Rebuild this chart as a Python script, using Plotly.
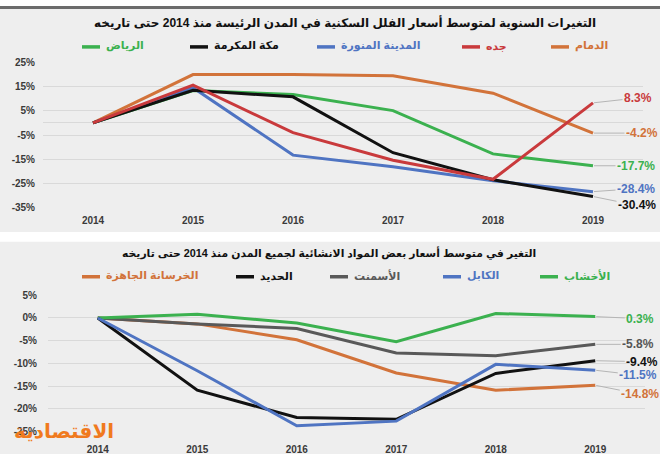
import plotly.graph_objects as go

# ---------------- data ----------------
years = ["2014", "2015", "2016", "2017", "2018", "2019"]

# top chart: villa prices change (%)
top_names = ["الدمام", "جده", "المدينة المنورة", "مكة المكرمة", "الرياض"]
dammam = [0, 20.0, 20.0, 19.5, 12.3, -4.2]
jeddah = [0, 15.6, -4.0, -15.4, -23.3, 8.3]
madinah = [0, 14.6, -13.3, -18.1, -23.9, -28.4]
makkah = [0, 13.5, 10.8, -12.3, -23.5, -30.4]
riyadh = [0, 13.4, 11.8, 5.1, -12.8, -17.7]
top_colors = ["#d2733a", "#c93a3c", "#4f74c2", "#111111", "#3bb14f"]
top_label_colors = ["#d2733a", "#c93a3c", "#4f74c2", "#111111", "#3bb14f"]

# bottom chart: construction materials change (%)
bot_names = ["الأخشاب", "الكابل", "الأسمنت", "الحديد", "الخرسانة الجاهزة"]
wood = [0, 0.8, -1.1, -5.2, 1.0, 0.3]
cables = [0, -11.6, -23.7, -22.7, -10.2, -11.5]
cement = [0, -1.3, -2.3, -7.7, -8.3, -5.8]
iron = [0, -15.9, -21.9, -22.3, -12.2, -9.4]
concrete = [0, -1.3, -4.8, -12.1, -15.9, -14.8]
bot_colors = ["#3bb14f", "#4f74c2", "#595959", "#111111", "#d2733a"]
bot_label_colors = ["#3bb14f", "#4f74c2", "#555555", "#111111", "#d2733a"]

top_title = "التغيرات السنوية لمتوسط أسعار الفلل السكنية في المدن الرئيسة منذ 2014 حتى تاريخه"
bot_title = "التغير في متوسط أسعار بعض المواد الانشائية لجميع المدن منذ 2014 حتى تاريخه"

top_ticks = [25, 15, 5, -5, -15, -25, -35]
bot_ticks = [5, 0, -5, -10, -15, -20, -25]

top_series = [dammam, jeddah, madinah, makkah, riyadh]
bot_series = [wood, cables, cement, iron, concrete]

# ---------------- layout helpers (pixels) ----------------
W, H = 660, 460
def px(x):
    return x / W
def py(y):
    return (H - y) / H

FONT = "Arial, 'DejaVu Sans', sans-serif"
TICK_COL = "#3a3a3a"
GRID = "#d9d9d9"
PANEL = "#eeeeee"

fig = go.Figure()

# draw order (back to front)
top_order = [0, 4, 2, 3, 1]
for i in top_order:
    fig.add_trace(go.Scatter(x=years, y=top_series[i], mode="lines", name=top_names[i],
                             line=dict(color=top_colors[i], width=3),
                             xaxis="x", yaxis="y", showlegend=False, hoverinfo="skip"))
bot_order = [4, 2, 0, 3, 1]
for i in bot_order:
    fig.add_trace(go.Scatter(x=years, y=bot_series[i], mode="lines", name=bot_names[i],
                             line=dict(color=bot_colors[i], width=3),
                             xaxis="x2", yaxis="y2", showlegend=False, hoverinfo="skip"))

annotations = []
shapes = []

# panels
shapes.append(dict(type="rect", xref="paper", yref="paper", x0=0, x1=1, y0=py(232), y1=1,
                   fillcolor=PANEL, line=dict(width=0), layer="below"))
shapes.append(dict(type="rect", xref="paper", yref="paper", x0=0, x1=1, y0=py(3), y1=1,
                   fillcolor="#6b6b6b", line=dict(width=0), layer="below"))
shapes.append(dict(type="rect", xref="paper", yref="paper", x0=0, x1=1, y0=0, y1=py(242),
                   fillcolor=PANEL, line=dict(width=0), layer="below"))

# titles
annotations.append(dict(text="<b>" + top_title + "</b>", xref="paper", yref="paper",
                        x=px(345), y=py(17), xanchor="center", yanchor="middle", showarrow=False,
                        font=dict(size=12, color="#111111", family=FONT)))
annotations.append(dict(text="<b>" + bot_title + "</b>", xref="paper", yref="paper",
                        x=px(329), y=py(254), xanchor="center", yanchor="middle", showarrow=False,
                        font=dict(size=10.8, color="#111111", family=FONT)))

# manual legends: (series index, dash start x)
top_leg = [(4, 82), (3, 190), (2, 317), (1, 462), (0, 551)]
for i, x0 in top_leg:
    shapes.append(dict(type="line", xref="paper", yref="paper", x0=px(x0), x1=px(x0 + 18),
                       y0=py(42), y1=py(42), line=dict(color=top_colors[i], width=3.5)))
    annotations.append(dict(text="<b>" + top_names[i] + "</b>", xref="paper", yref="paper",
                            x=px(x0 + 22), y=py(41), xanchor="left", yanchor="middle",
                            showarrow=False,
                            font=dict(size=11, color=top_colors[i], family=FONT)))
bot_leg = [(4, 82), (3, 236), (2, 330), (1, 443), (0, 540)]
for i, x0 in bot_leg:
    shapes.append(dict(type="line", xref="paper", yref="paper", x0=px(x0), x1=px(x0 + 18),
                       y0=py(278), y1=py(278), line=dict(color=bot_colors[i], width=3.5)))
    annotations.append(dict(text="<b>" + bot_names[i] + "</b>", xref="paper", yref="paper",
                            x=px(x0 + 22), y=py(277), xanchor="left", yanchor="middle",
                            showarrow=False,
                            font=dict(size=11, color=bot_colors[i], family=FONT)))

# end labels with leader lines (x given as category index of the last year)
last = len(years) - 1
top_offsets = [(49, 0), (45, -5), (43, -3), (44, 9), (43, 0)]
for i, vals in enumerate(top_series):
    ax, ay = top_offsets[i]
    annotations.append(dict(x=last, y=vals[-1], xref="x", yref="y",
                            text="<b>%.1f%%</b>" % vals[-1], showarrow=True, arrowhead=0,
                            arrowwidth=1, arrowcolor="#b5b5b5", ax=ax, ay=ay, standoff=1,
                            font=dict(size=12, color=top_label_colors[i], family=FONT)))
bot_offsets = [(45, 2), (43, 5), (43, 0), (47, 1), (45, 9)]
for i, vals in enumerate(bot_series):
    ax, ay = bot_offsets[i]
    annotations.append(dict(x=last, y=vals[-1], xref="x2", yref="y2",
                            text="<b>%.1f%%</b>" % vals[-1], showarrow=True, arrowhead=0,
                            arrowwidth=1, arrowcolor="#b5b5b5", ax=ax, ay=ay, standoff=1,
                            font=dict(size=12, color=bot_label_colors[i], family=FONT)))

# watermark logo
annotations.append(dict(text="<b>الاقتصادية</b>", xref="paper", yref="paper",
                        x=px(64), y=py(436), xanchor="center", yanchor="middle", showarrow=False,
                        font=dict(size=20, color="#f07a1e", family=FONT)))

def pct(v):
    return "%d%%" % v

fig.update_layout(
    width=W, height=H, autosize=False,
    margin=dict(l=0, r=0, t=0, b=0),
    paper_bgcolor="white", plot_bgcolor="rgba(0,0,0,0)",
    font=dict(family=FONT),
    showlegend=False,
    shapes=shapes, annotations=annotations,
    xaxis=dict(domain=[px(43), px(643)], anchor="y", type="category", range=[-0.5, 5.5],
               showgrid=False, showline=False, zeroline=False, ticks="",
               tickfont=dict(size=10, color=TICK_COL, weight="bold"), ticklabelstandoff=5),
    yaxis=dict(domain=[py(207), py(58)], anchor="x", range=[-35, 25],
               tickvals=top_ticks, ticktext=[pct(v) for v in top_ticks],
               showgrid=True, gridcolor=GRID, gridwidth=1, zeroline=True,
               zerolinecolor=GRID, zerolinewidth=1, showline=False, ticks="",
               tickfont=dict(size=10, color=TICK_COL, weight="bold"), ticklabelstandoff=7),
    xaxis2=dict(domain=[px(48), px(645)], anchor="y2", type="category", range=[-0.5, 5.5],
                showgrid=False, showline=False, zeroline=False, ticks="",
                tickfont=dict(size=10, color=TICK_COL, weight="bold"), ticklabelstandoff=10),
    yaxis2=dict(domain=[py(437), py(297)], anchor="x2", range=[-25, 5],
                tickvals=bot_ticks, ticktext=[pct(v) for v in bot_ticks],
                showgrid=True, gridcolor=GRID, gridwidth=1, zeroline=False,
                showline=False, ticks="",
                tickfont=dict(size=10, color=TICK_COL, weight="bold"), ticklabelstandoff=10),
)

fig.write_html("out.html", config={"displayModeBar": False},
               post_script="document.body.style.margin='0px';document.body.style.overflow='hidden';")
